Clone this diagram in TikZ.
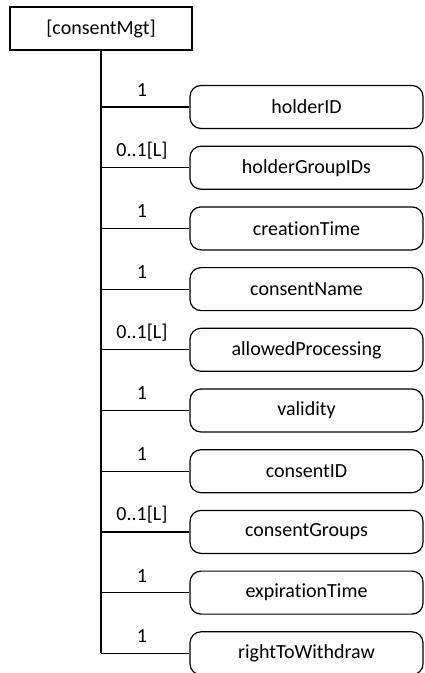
\documentclass[tikz,border=0pt]{standalone}
\usepackage{fontspec}
\setmainfont{Carlito}[Ligatures={NoCommon}]
\usetikzlibrary{positioning}

\begin{document}
\begin{tikzpicture}[x=1pt,y=-1pt,
  every node/.style={font=\fontsize{20}{24}\selectfont},
  rootbox/.style={draw, line width=1.2pt, minimum width=182pt, minimum height=43pt, inner sep=0pt},
  leafbox/.style={draw, line width=1.2pt, rounded corners=11pt, minimum width=233pt, minimum height=43pt, inner sep=0pt},
  mult/.style={inner sep=0pt}]
\useasboundingbox (0,0) rectangle (425,673);
% Root element
\node[rootbox] (root) at (101,28.5) {[consentMgt]};
% Child elements with cardinality
\foreach \i/\name/\card in {0/holderID/1, 1/holderGroupIDs/0..1[L], 2/creationTime/1,
    3/consentName/1, 4/allowedProcessing/0..1[L], 5/validity/1, 6/consentID/1,
    7/consentGroups/0..1[L], 8/expirationTime/1, 9/rightToWithdraw/1} {
  \pgfmathsetmacro{\yy}{107+60.7*\i}
  \node[leafbox] (c\i) at (306.5,\yy) {\name};
  \coordinate (b\i) at (root.south |- c\i.west);
  \draw[line width=1.2pt] (b\i) -- (c\i.west);
  \node[mult] (m\i) at (142,\yy-17) {\card};
}
% Spine
\draw[line width=1.2pt] (root.south) -- (b9);
\end{tikzpicture}
\end{document}
